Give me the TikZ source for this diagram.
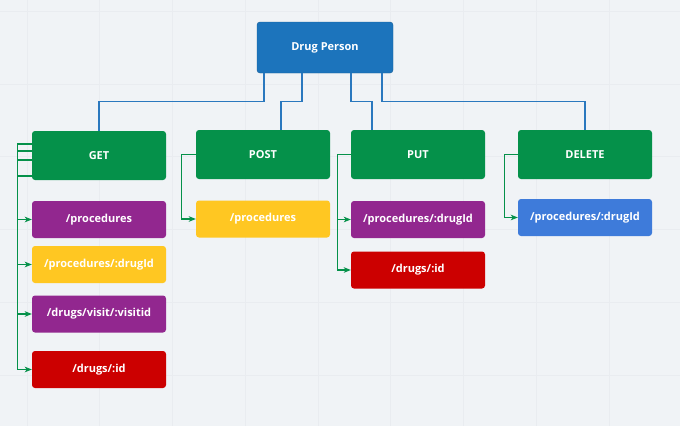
\documentclass[tikz,border=0pt]{standalone}
\usepackage{fontspec}
\setmainfont{Open Sans}
\usetikzlibrary{arrows.meta}
\definecolor{bgc}{HTML}{F0F3F6}
\definecolor{gridc}{HTML}{E9ECF0}
\definecolor{topblue}{HTML}{1C74BC}
\definecolor{lineblue}{HTML}{2A78BE}
\definecolor{mgreen}{HTML}{05914A}
\definecolor{mpurple}{HTML}{92278F}
\definecolor{myellow}{HTML}{FFC722}
\definecolor{mred}{HTML}{CC0000}
\definecolor{lblue}{HTML}{3E7BDA}
\tikzset{
  box/.style={rounded corners=3pt, minimum width=134pt, text=white, font=\fontsize{11}{13}\selectfont\bfseries, inner sep=0pt},
  topbox/.style={box, fill=topblue, draw=topblue!80!black, line width=0.4pt, minimum width=136pt, minimum height=51pt},
  method/.style={box, fill=mgreen, minimum height=49pt},
  leaf/.style={box, minimum height=37pt},
  bline/.style={draw=lineblue, line width=1.3pt},
  gline/.style={draw=mgreen, line width=1.1pt, -{Stealth[length=7pt,width=5.5pt,inset=1.8pt]}},
}
\begin{document}
\begin{tikzpicture}[x=1pt,y=-1pt]
\fill[bgc] (0,0) rectangle (680,426);
\useasboundingbox (0,0) rectangle (680,426);
\foreach \gx in {27,99.75,172.5,245.25,318,390.75,463.5,536.25,609}
  \draw[gridc, line width=0.6pt] (\gx,0) -- (\gx,426);
\foreach \gy in {11.25,84,156.75,229.5,302.25,375}
  \draw[gridc, line width=0.6pt] (0,\gy) -- (680,\gy);

\node[topbox] (dp) at (325,47.5) {Drug Person};
\node[method] (get) at (99,155.5) {GET};
\node[method] (post) at (263,154.5) {POST};
\node[method] (put) at (418,154.5) {PUT};
\node[method] (del) at (585,154.5) {DELETE};

\node[leaf, fill=mpurple] (g1) at (99,219.5) {/procedures};
\node[leaf, fill=myellow] (g2) at (99,264.5) {/procedures/:drugId};
\node[leaf, fill=mpurple] (g3) at (99,314) {/drugs/visit/:visitid};
\node[leaf, fill=mred] (g4) at (99,369.5) {/drugs/:id};
\node[leaf, fill=myellow] (p1) at (263,219) {/procedures};
\node[leaf, fill=mpurple] (u1) at (418,219.5) {/procedures/:drugId};
\node[leaf, fill=mred] (u2) at (418,270) {/drugs/:id};
\node[leaf, fill=lblue] (d1) at (585,217.5) {/procedures/:drugId};

\draw[bline] ([xshift=-61pt]dp.south) -- ++(0,28) -| (get.north);
\draw[bline] ([xshift=-23pt]dp.south) -- ++(0,28) -| ([xshift=18pt]post.north);
\draw[bline] ([xshift=26pt]dp.south) -- ++(0,28) -| ([xshift=-46pt]put.north);
\draw[bline] ([xshift=57pt]dp.south) -- ++(0,28) -| (del.north);

\draw[gline] ([yshift=11.5pt]get.west) -- ++(-14,0) |- (g1.west);
\draw[gline] ([yshift=4.5pt]get.west) -- ++(-14,0) |- (g2.west);
\draw[gline] ([yshift=-4.5pt]get.west) -- ++(-14,0) |- (g3.west);
\draw[gline] ([yshift=-20.5pt]get.west) -- ++(-14,0) |- (g4.west);
\draw[gline] (post.west) -- ++(-14,0) |- (p1.west);
\draw[gline] (put.west) -- ++(-13,0) |- (u1.west);
\draw[gline] (put.west) -- ++(-13,0) |- (u2.west);
\draw[gline] (del.west) -- ++(-13,0) |- (d1.west);
\end{tikzpicture}
\end{document}
